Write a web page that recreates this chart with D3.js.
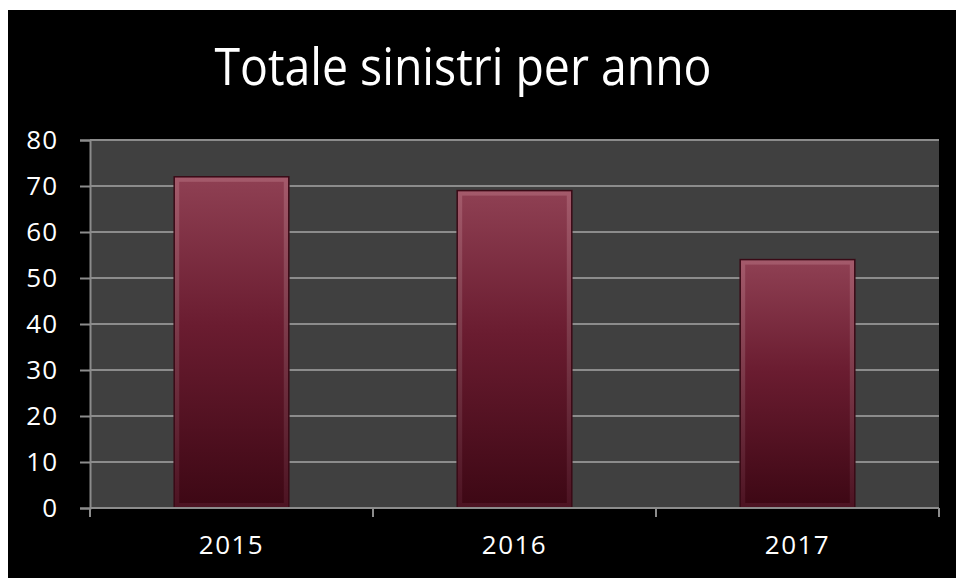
<!doctype html>
<html lang="it">
<head>
<meta charset="utf-8">
<title>Totale sinistri per anno</title>
<script src="https://cdn.jsdelivr.net/npm/d3@7"></script>
<style>
  html, body { margin: 0; padding: 0; background: #fff; }
  svg { display: block; }
  text { font-family: "Open Sans", "DejaVu Sans", sans-serif; fill: #fff; }
</style>
</head>
<body>
<script>
// chart data
var years = ["2015", "2016", "2017"];
var sinistri = [72, 69, 54];
var yTicks = [0, 10, 20, 30, 40, 50, 60, 70, 80];
var titolo = "Totale sinistri per anno";

var W = 956, H = 578;
var plot = {left: 90, right: 939, top: 140, bottom: 508};

var svg = d3.select("body").append("svg")
    .attr("width", W)
    .attr("height", H);

// gradient for the bars
var defs = svg.append("defs");
var grad = defs.append("linearGradient")
    .attr("id", "barGrad")
    .attr("x1", 0).attr("y1", 0).attr("x2", 0).attr("y2", 1);
grad.append("stop").attr("offset", "0%").attr("stop-color", "#8e3f52");
grad.append("stop").attr("offset", "45%").attr("stop-color", "#6a1c30");
grad.append("stop").attr("offset", "100%").attr("stop-color", "#3e0815");

var edgeGrad = defs.append("linearGradient")
    .attr("id", "edgeGrad")
    .attr("x1", 0).attr("y1", 0).attr("x2", 0).attr("y2", 1);
edgeGrad.append("stop").attr("offset", "0%").attr("stop-color", "#a45a6b");
edgeGrad.append("stop").attr("offset", "100%").attr("stop-color", "#4c1322");

// black background
svg.append("rect")
    .attr("x", 8).attr("y", 10)
    .attr("width", W - 8).attr("height", H - 10)
    .attr("fill", "#000");

// title
svg.append("text")
    .attr("x", 463)
    .attr("y", 85)
    .attr("text-anchor", "middle")
    .attr("font-size", 51)
    .attr("textLength", 497)
    .attr("lengthAdjust", "spacingAndGlyphs")
    .text(titolo);

var xScale = d3.scaleBand()
    .domain(years)
    .range([plot.left, plot.right])
    .paddingInner(0.595)
    .paddingOuter(0.2975);

var yScale = d3.scaleLinear()
    .domain([0, 80])
    .range([plot.bottom, plot.top]);

// plot area
svg.append("rect")
    .attr("x", plot.left).attr("y", plot.top)
    .attr("width", plot.right - plot.left)
    .attr("height", plot.bottom - plot.top)
    .attr("fill", "#404040");

// gridlines
svg.append("g")
    .selectAll("line")
    .data(yTicks.slice(1))
    .enter().append("line")
    .attr("x1", plot.left).attr("x2", plot.right)
    .attr("y1", d => yScale(d)).attr("y2", d => yScale(d))
    .attr("stroke", "#8c8c8c")
    .attr("stroke-width", 2);

// bars
var bars = svg.append("g")
    .selectAll("g")
    .data(years)
    .enter().append("g");

bars.append("rect")
    .attr("x", d => xScale(d))
    .attr("y", (d, i) => yScale(sinistri[i]))
    .attr("width", xScale.bandwidth())
    .attr("height", (d, i) => yScale(0) - yScale(sinistri[i]))
    .attr("fill", "url(#edgeGrad)")
    .attr("stroke", "#3a0a16")
    .attr("stroke-width", 1.5);

bars.append("rect")
    .attr("x", d => xScale(d) + 5)
    .attr("y", (d, i) => yScale(sinistri[i]) + 5)
    .attr("width", xScale.bandwidth() - 10)
    .attr("height", (d, i) => yScale(0) - yScale(sinistri[i]) - 10)
    .attr("fill", "url(#barGrad)");

// y axis
var yAxis = d3.axisLeft(yScale)
    .tickValues(yTicks)
    .tickSize(10)
    .tickPadding(22);

var gy = svg.append("g")
    .attr("transform", "translate(" + plot.left + ",0)")
    .call(yAxis);
gy.select(".domain").attr("stroke", "#8c8c8c").attr("stroke-width", 2);
gy.selectAll(".tick line").attr("stroke", "#8c8c8c").attr("stroke-width", 2);
gy.selectAll(".tick text")
    .attr("fill", "#fff")
    .attr("font-size", 26)
    .attr("letter-spacing", 1)
    .attr("font-family", "Open Sans, DejaVu Sans, sans-serif");

// x axis
var xAxis = d3.axisBottom(xScale)
    .tickSize(0)
    .tickPadding(28);

var gx = svg.append("g")
    .attr("transform", "translate(0," + plot.bottom + ")")
    .call(xAxis);
gx.select(".domain").attr("stroke", "#8c8c8c").attr("stroke-width", 2)
    .attr("d", "M" + plot.left + ",0H" + plot.right);
gx.selectAll(".tick text")
    .attr("fill", "#fff")
    .attr("font-size", 26)
    .attr("letter-spacing", 1.5)
    .attr("font-family", "Open Sans, DejaVu Sans, sans-serif");

// category boundary ticks
var step = xScale.step();
var bounds = years.map(d => xScale(d) - (step - xScale.bandwidth()) / 2);
bounds.push(plot.right);
gx.append("g")
    .selectAll("line")
    .data(bounds)
    .enter().append("line")
    .attr("x1", d => d).attr("x2", d => d)
    .attr("y1", 0).attr("y2", 9)
    .attr("stroke", "#8c8c8c")
    .attr("stroke-width", 2);
</script>
</body>
</html>
